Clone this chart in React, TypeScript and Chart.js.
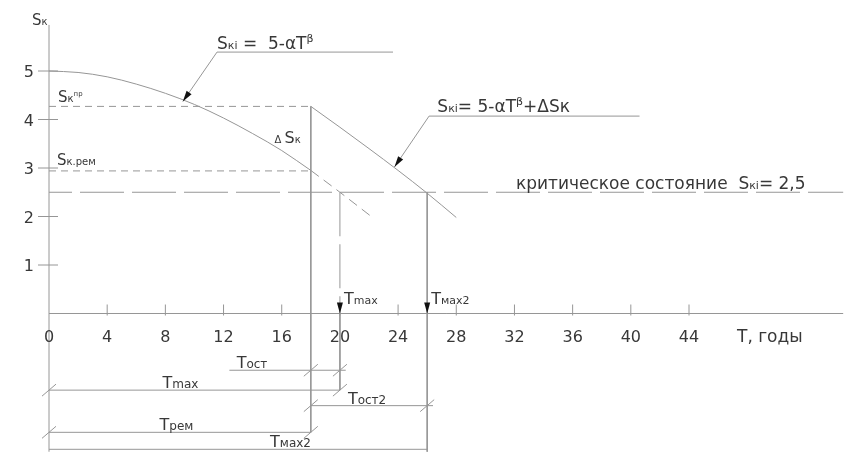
import { useEffect, useRef } from "react";
import { Chart, registerables } from "chart.js";

Chart.register(...registerables);

// S = 5 - αT^β
const baseYears = [0, 2, 4, 6, 8, 10, 12, 14, 16, 18];
const baseValues = [5.0, 4.97, 4.88, 4.73, 4.54, 4.31, 4.03, 3.71, 3.36, 2.95];
// dashed continuation without repair
const tailYears = [18, 20, 22.2];
const tailValues = [2.95, 2.5, 1.99];
// after repair, S = 5 - αT^β + ΔS
const repairYears = [18, 20, 22, 24, 26, 28];
const repairValues = [4.27, 3.84, 3.4, 2.95, 2.48, 1.98];

const xTicks = [0, 4, 8, 12, 16, 20, 24, 28, 32, 36, 40, 44];
const yTicks = [1, 2, 3, 4, 5];

const sPr = 4.27;
const sRem = 2.94;
const sCrit = 2.5;
const tRem = 18;
const tMax = 20;
const tMax2 = 26;

const LINE = "#969696";
const INK = "#383838";
const FONT = '"DejaVu Sans", "Liberation Sans", sans-serif';

// levels of the dimension lines under the axis (in S units)
const lvlOst = -1.17;
const lvlMax = -1.58;
const lvlOst2 = -1.9;
const lvlRem = -2.45;
const lvlMax2 = -2.8;

type Run = [string, number, number?];

function seg(xs: number[], ys: number[], dash: number[] = [], extra: any = {}) {
  return {
    data: xs.map((x, i) => ({ x, y: ys[i] })),
    borderColor: LINE,
    borderWidth: 1,
    borderDash: dash,
    pointRadius: 0,
    fill: false,
    clip: false,
    ...extra,
  };
}

const drawing = {
  id: "drawing",
  afterDatasetsDraw(chart: any) {
    const { ctx } = chart;
    const X = (v: number) => chart.scales.x.getPixelForValue(v);
    const Y = (v: number) => chart.scales.y.getPixelForValue(v);
    const line = (x1: number, y1: number, x2: number, y2: number) => {
      ctx.beginPath();
      ctx.moveTo(x1, y1);
      ctx.lineTo(x2, y2);
      ctx.stroke();
    };
    const rich = (runs: Run[], x: number, y: number) => {
      let cx = x;
      for (const [t, size, rise = 0] of runs) {
        ctx.font = `${size}px ${FONT}`;
        ctx.fillText(t, cx, y - rise);
        cx += ctx.measureText(t).width;
      }
    };
    const arrow = (tx: number, ty: number, fx: number, fy: number) => {
      const a = Math.atan2(ty - fy, tx - fx);
      const len = 11;
      const half = 3;
      const bx = tx - len * Math.cos(a);
      const by = ty - len * Math.sin(a);
      ctx.beginPath();
      ctx.moveTo(tx, ty);
      ctx.lineTo(bx + half * Math.sin(a), by - half * Math.cos(a));
      ctx.lineTo(bx - half * Math.sin(a), by + half * Math.cos(a));
      ctx.closePath();
      ctx.fill();
    };
    const slash = (x: number, y: number) => line(x - 7, y + 6, x + 7, y - 6);

    ctx.save();
    ctx.strokeStyle = LINE;
    ctx.lineWidth = 1;
    ctx.setLineDash([]);

    // axes
    line(X(0), Y(5.95), X(0), Y(-2.85));
    line(X(0), Y(0), X(54.6), Y(0));
    xTicks.forEach((t) => {
      if (t > 0) line(X(t), Y(0) - 9, X(t), Y(0) + 2);
    });
    yTicks.forEach((s) => line(X(0) - 11, Y(s), X(0) + 9, Y(s)));

    // leaders
    line(X(23.65), Y(5.39), X(11.55), Y(5.39));
    line(X(11.55), Y(5.39), X(9.2), Y(4.37));
    line(X(40.6), Y(4.07), X(26.13), Y(4.07));
    line(X(26.13), Y(4.07), X(23.75), Y(3.02));

    // dimension slashes
    [tRem, tMax].forEach((t) => slash(X(t), Y(lvlOst)));
    [0, tMax].forEach((t) => slash(X(t), Y(lvlMax)));
    [tRem, tMax2].forEach((t) => slash(X(t), Y(lvlOst2)));
    [0, tRem].forEach((t) => slash(X(t), Y(lvlRem)));

    ctx.fillStyle = "#111";
    arrow(X(9.2), Y(4.37), X(11.55), Y(5.39));
    arrow(X(23.75), Y(3.02), X(26.13), Y(4.07));
    arrow(X(tMax), Y(0), X(tMax), Y(1));
    arrow(X(tMax2), Y(0), X(tMax2), Y(1));

    // tick labels
    ctx.fillStyle = INK;
    ctx.font = `16px ${FONT}`;
    ctx.textBaseline = "alphabetic";
    ctx.textAlign = "center";
    xTicks.forEach((t) => ctx.fillText(String(t), X(t), Y(0) + 28));
    ctx.textAlign = "right";
    yTicks.forEach((s) => ctx.fillText(String(s), X(0) - 15, Y(s) + 6));
    ctx.textAlign = "left";

    rich([["S", 15], ["к", 10]], X(0) - 17, Y(5.95));
    rich([["T, годы", 17]], X(47.3), Y(0) + 28);

    rich([["S", 15], ["к", 10], ["пр", 7, 6]], X(0) + 9, Y(sPr) - 4);
    rich([["S", 15], ["к.рем", 10]], X(0) + 8, Y(sRem) - 6);
    rich([["Δ ", 10], ["S", 16], ["к", 10]], X(15.5), Y(3.51));

    rich([["S", 17], ["кі", 11], [" =  5-αT", 17], ["β", 11, 7]], X(11.55), Y(5.45));
    rich(
      [["S", 17], ["кі", 11], ["= 5-αT", 17], ["β", 11, 7], ["+ΔSк", 17]],
      X(26.7),
      Y(4.15),
    );
    rich(
      [["критическое состояние  S", 17], ["кі", 11], ["= 2,5", 17]],
      X(32.1),
      Y(2.56),
    );

    rich([["T", 16], ["max", 11]], X(tMax) + 4, Y(0) - 10);
    rich([["T", 16], ["мах2", 11]], X(tMax2) + 4, Y(0) - 10);

    rich([["T", 16], ["ост", 12]], X(12.9), Y(lvlOst) - 2);
    rich([["T", 16], ["max", 12]], X(7.8), Y(lvlMax) - 2);
    rich([["T", 16], ["ост2", 12]], X(20.55), Y(lvlOst2) - 2);
    rich([["T", 16], ["рем", 12]], X(7.6), Y(lvlRem) - 2);
    rich([["T", 16], ["мах2", 12]], X(15.2), Y(lvlMax2) - 2);

    ctx.restore();
  },
};

function WearChart() {
  const canvasRef = useRef<HTMLCanvasElement | null>(null);
  const chartInstance = useRef<Chart | null>(null);

  useEffect(() => {
    if (!canvasRef.current) return;
    const ctx = canvasRef.current.getContext("2d");
    if (!ctx) return;

    if (chartInstance.current) {
      chartInstance.current.destroy();
    }

    const smooth = { cubicInterpolationMode: "monotone" };

    chartInstance.current = new Chart(ctx, {
      type: "line",
      data: {
        datasets: [
          seg(baseYears, baseValues, [], smooth),
          seg(tailYears, tailValues, [10, 6], smooth),
          seg(repairYears, repairValues, [], smooth),
          seg([0, tRem], [sPr, sPr], [7, 5]),
          seg([0, tRem], [sRem, sRem], [7, 5]),
          seg([0, 54.6], [sCrit, sCrit], [44, 8], { borderDashOffset: 21 }),
          seg([tMax, tMax], [sCrit, 0], [44, 8]),
          seg([tMax, tMax], [0, lvlMax]),
          seg([tRem, tRem], [sPr, lvlRem]),
          seg([tMax2, tMax2], [sCrit, -2.85]),
          seg([12.4, 20.4], [lvlOst, lvlOst]),
          seg([0, tMax], [lvlMax, lvlMax]),
          seg([tRem, 26.4], [lvlOst2, lvlOst2]),
          seg([0, tRem], [lvlRem, lvlRem]),
          seg([0, tMax2], [lvlMax2, lvlMax2]),
        ] as any,
      },
      options: {
        animation: false,
        responsive: true,
        maintainAspectRatio: false,
        events: [],
        layout: { padding: { left: 49, right: 2, top: 22.5, bottom: 5 } },
        plugins: { legend: { display: false }, tooltip: { enabled: false } },
        scales: {
          x: { type: "linear", min: 0, max: 55, display: false },
          y: { type: "linear", min: -3, max: 6, display: false },
        },
      },
      plugins: [drawing],
    });

    return () => {
      if (chartInstance.current) {
        chartInstance.current.destroy();
        chartInstance.current = null;
      }
    };
  }, []);

  return <canvas ref={canvasRef} />;
}

export default function App() {
  return (
    <div
      style={{
        position: "absolute",
        left: 0,
        top: 0,
        width: 851,
        height: 464,
        background: "#fff",
      }}
    >
      <WearChart />
    </div>
  );
}
